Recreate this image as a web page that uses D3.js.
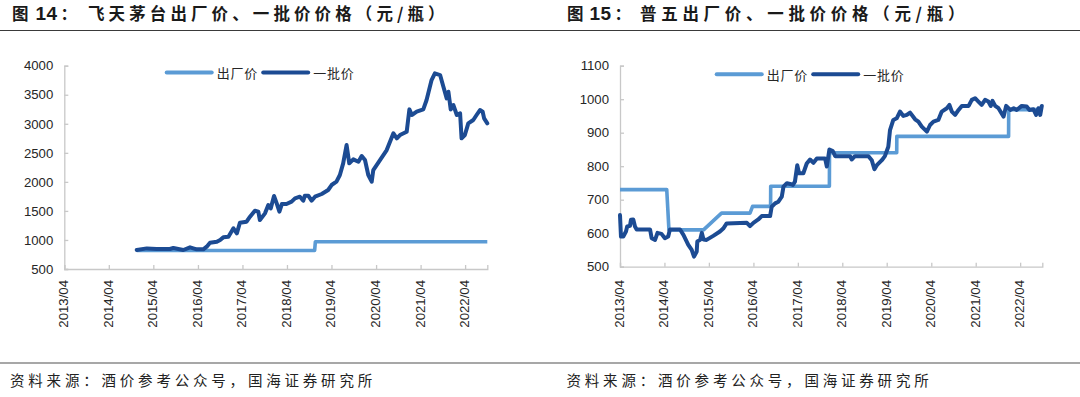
<!DOCTYPE html>
<html><head><meta charset="utf-8">
<script src="https://cdn.jsdelivr.net/npm/d3@7"></script>
<style>
html,body{margin:0;padding:0;background:#fff;}
svg{display:block;}
</style></head>
<body>
<svg id="c" width="1080" height="397"></svg>
<script>
// ---------- DATA ----------
const titleNums = ["14", "15"];
const titleTexts = ["飞天茅台出厂价、一批价价格（元/瓶）", "普五出厂价、一批价价格（元/瓶）"];
const sourceText = "资料来源：酒价参考公众号，国海证券研究所";
const seriesNames = ["出厂价", "一批价"];
const xTickDates = ["2013-04-01","2014-04-01","2015-04-01","2016-04-01","2017-04-01","2018-04-01","2019-04-01","2020-04-01","2021-04-01","2022-04-01"];
const xTickLabels = ["2013/04","2014/04","2015/04","2016/04","2017/04","2018/04","2019/04","2020/04","2021/04","2022/04"];
const leftYTicks = [500,1000,1500,2000,2500,3000,3500,4000];
const rightYTicks = [500,600,700,800,900,1000,1100];

// 飞天茅台 出厂价
const moutaiFactory = [["2014-11-16",819],["2018-11-14",819],["2018-11-20",969],["2022-09-30",969]];
// 飞天茅台 一批价
const moutaiWholesale = [
["2014-11-16",827],["2015-02-07",855],["2015-04-27",844],["2015-08-15",845],["2015-09-12",862],
["2015-12-03",827],["2016-01-27",873],["2016-03-21",838],["2016-05-15",838],["2016-06-12",884],
["2016-07-09",953],["2016-09-03",970],["2016-09-30",1000],["2016-10-26",1045],["2016-12-07",1056],
["2017-01-17",1200],["2017-02-14",1114],["2017-03-11",1297],["2017-05-05",1315],["2017-06-02",1400],
["2017-07-12",1504],["2017-08-09",1487],["2017-08-22",1343],["2017-10-03",1458],["2017-10-30",1601],
["2017-11-19",1544],["2017-12-16",1756],["2018-01-07",1630],["2018-01-29",1487],["2018-02-18",1618],
["2018-03-28",1618],["2018-05-09",1659],["2018-06-06",1716],["2018-07-16",1745],["2018-08-13",1676],
["2018-08-26",1762],["2018-09-23",1762],["2018-10-20",1676],["2018-11-17",1745],["2019-01-11",1791],
["2019-03-05",1860],["2019-04-02",1946],["2019-05-12",2003],["2019-06-09",2118],["2019-07-06",2319],
["2019-08-03",2634],["2019-08-25",2319],["2019-09-27",2388],["2019-11-08",2347],["2019-12-05",2445],
["2020-01-01",2376],["2020-01-28",2118],["2020-02-25",2003],["2020-03-09",2204],["2020-05-03",2376],
["2020-06-27",2548],["2020-08-21",2835],["2020-09-18",2749],["2020-10-14",2806],["2020-12-08",2864],
["2020-12-30",3248],["2021-01-19",3151],["2021-02-28",3208],["2021-04-23",3248],["2021-05-20",3409],
["2021-06-30",3753],["2021-07-27",3868],["2021-09-08",3839],["2021-10-05",3638],["2021-11-01",3438],
["2021-11-15",3552],["2021-12-04",3248],["2021-12-26",3323],["2022-01-23",3151],["2022-02-19",3179],
["2022-03-03",2749],["2022-03-30",2806],["2022-04-27",3007],["2022-06-07",3065],["2022-07-04",3151],
["2022-08-01",3237],["2022-08-23",3208],["2022-09-04",3093],["2022-09-30",3007]];

// 普五 出厂价
const wuliangyeFactory = [["2013-04-01",730],["2014-04-20",730],["2014-05-08",610],["2015-02-16",610],
["2015-07-14",660],["2016-03-04",660],["2016-03-25",680],["2016-08-20",680],["2016-08-21",740],
["2017-12-16",740],["2017-12-17",840],["2019-06-22",840],["2019-06-23",889],["2021-12-27",889],
["2021-12-28",969],["2022-09-30",969]];
// 普五 一批价
const wuliangyeWholesale = [
["2013-04-01",654],["2013-04-09",590],["2013-04-28",590],["2013-05-20",605],["2013-05-30",620],
["2013-06-22",622],["2013-06-30",640],["2013-07-19",641],["2013-08-02",620],["2013-08-16",611],
["2013-12-04",611],["2013-12-17",585],["2014-01-14",580],["2014-02-03",601],["2014-03-08",598],
["2014-04-05",585],["2014-05-02",590],["2014-05-16",611],["2014-08-07",611],["2014-09-04",595],
["2014-10-14",565],["2014-11-11",550],["2014-11-30",530],["2014-12-22",545],["2014-12-27",575],
["2015-01-19",580],["2015-02-02",601],["2015-02-16",581],["2015-03-13",580],["2015-05-07",592],
["2015-07-01",605],["2015-07-28",614],["2015-08-25",629],["2016-02-07",631],["2016-03-04",621],
["2016-04-01",631],["2016-05-11",641],["2016-06-08",651],["2016-08-16",651],["2016-08-29",679],
["2016-09-26",689],["2016-10-23",694],["2016-11-20",709],["2016-12-04",739],["2017-01-01",749],
["2017-01-28",747],["2017-02-19",744],["2017-03-08",754],["2017-03-27",803],["2017-04-11",779],
["2017-05-16",779],["2017-06-13",808],["2017-07-10",820],["2017-08-07",810],["2017-09-04",823],
["2017-11-11",823],["2017-11-25",799],["2017-12-16",850],["2018-01-13",845],["2018-02-02",830],
["2018-06-04",830],["2018-06-17",820],["2018-07-14",830],["2018-11-02",830],["2018-11-29",818],
["2018-12-21",791],["2019-01-10",803],["2019-02-20",818],["2019-03-17",830],["2019-04-14",858],
["2019-04-28",908],["2019-05-25",938],["2019-06-22",943],["2019-07-19",963],["2019-08-16",950],
["2019-09-13",953],["2019-10-10",960],["2019-11-20",940],["2019-12-17",933],["2020-01-14",918],
["2020-02-25",903],["2020-03-22",923],["2020-04-19",933],["2020-05-29",938],["2020-06-26",963],
["2020-08-07",973],["2020-08-28",983],["2020-09-17",963],["2020-10-14",953],["2020-11-11",968],
["2020-12-08",980],["2021-02-02",980],["2021-02-28",998],["2021-03-27",1003],["2021-04-23",993],
["2021-05-20",983],["2021-06-17",998],["2021-07-14",993],["2021-08-03",980],["2021-08-17",995],
["2021-09-08",980],["2021-10-05",973],["2021-11-16",948],["2021-12-07",980],["2022-01-10",968],
["2022-02-07",973],["2022-03-04",968],["2022-04-14",980],["2022-05-25",978],["2022-06-16",968],
["2022-07-19",970],["2022-08-10",953],["2022-08-29",973],["2022-09-13",953],["2022-09-26",980]];

// ---------- DRAW ----------
const parse = d3.timeParse("%Y-%m-%d");
const svg = d3.select("#c");
const LIGHT = "#5b9bd5", DARK = "#1c4b93", AXIS = "#c8c8c8";
const FONT_NUM = "'Liberation Sans', Arial, sans-serif";
const FONT_CJK = "'Noto Sans CJK SC', sans-serif";

// header & footer rules
svg.append("line").attr("x1",0).attr("x2",1080).attr("y1",30.5).attr("y2",30.5).attr("stroke","#3a3a3a").attr("stroke-width",1.2);
svg.append("line").attr("x1",0).attr("x2",1080).attr("y1",363).attr("y2",363).attr("stroke","#8a8a8a").attr("stroke-width",1.4);

const panels = [
  {num: titleNums[0], txt: titleTexts[0], tx: [12, 35.5, 60.5, 88], ls: 4.1, x0: 64.3, x1: 487.3, y0: 269, y1: 65.7, yDomain:[500,4000], yTicks:leftYTicks,
   factory: moutaiFactory, wholesale: moutaiWholesale, legX: 166.7, legY: 72.5, sx: 10},
  {num: titleNums[1], txt: titleTexts[1], tx: [567, 589.5, 614.5, 640], ls: 4.7, x0: 620, x1: 1042.3, y0: 266.7, y1: 65.7, yDomain:[500,1100], yTicks:rightYTicks,
   factory: wuliangyeFactory, wholesale: wuliangyeWholesale, legX: 716.7, legY: 74.3, sx: 566.5}
];

panels.forEach(p => {
  const g = svg.append("g");
  // title
  const t = g.append("text").attr("y", 20).attr("font-weight","bold").attr("fill","#1a1a1a");
  t.append("tspan").attr("x", p.tx[0]).attr("font-family", FONT_CJK).attr("font-size", 16.5).text("图");
  t.append("tspan").attr("x", p.tx[1]).attr("font-family", FONT_NUM).attr("font-size", 19).attr("letter-spacing", 0.5).text(p.num);
  t.append("tspan").attr("x", p.tx[2]).attr("font-family", FONT_CJK).attr("font-size", 16.5).text("：");
  t.append("tspan").attr("x", p.tx[3]).attr("font-family", FONT_CJK).attr("font-size", 16.5).attr("letter-spacing", p.ls).text(p.txt);
  // source
  g.append("text").attr("x", p.sx).attr("y", 385.5).attr("font-family", FONT_CJK)
    .attr("font-size", 14.5).attr("letter-spacing", 3.8).attr("fill","#222").text(sourceText);

  const x = d3.scaleTime().domain([parse("2013-04-01"), parse("2022-09-30")]).range([p.x0, p.x1]);
  const y = d3.scaleLinear().domain(p.yDomain).range([p.y0, p.y1]);

  // x axis
  const xa = g.append("g").attr("transform", `translate(0,${p.y0})`)
    .call(d3.axisBottom(x).tickValues(xTickDates.map(parse)).tickSize(-4).tickFormat(""));
  xa.select(".domain").attr("stroke", AXIS).attr("stroke-width",1.3);
  xa.selectAll(".tick line").attr("stroke", AXIS).attr("stroke-width",1.3);
  // rotated labels
  g.selectAll(".xl").data(xTickDates).enter().append("text")
    .attr("transform", (d) => `translate(${x(parse(d)) - 0.5},280) rotate(-90)`)
    .attr("text-anchor","end").attr("dominant-baseline","central")
    .attr("font-family", FONT_NUM).attr("font-size", 13.2).attr("fill","#262626")
    .text((d,i) => xTickLabels[i]);

  // y axis
  const ya = g.append("g").attr("transform", `translate(${p.x0},0)`)
    .call(d3.axisLeft(y).tickValues(p.yTicks).tickSize(-4).tickPadding(11).tickFormat(d3.format("d")));
  ya.select(".domain").attr("stroke", AXIS).attr("stroke-width",1.3);
  ya.selectAll(".tick line").attr("stroke", AXIS).attr("stroke-width",1.3);
  ya.selectAll(".tick text").attr("font-family", FONT_NUM).attr("font-size", 13.2).attr("fill","#262626");

  const line = d3.line().x(d => x(parse(d[0]))).y(d => y(d[1]));
  g.append("path").datum(p.factory).attr("d", line).attr("fill","none").attr("stroke", LIGHT)
    .attr("stroke-width", 3.6).attr("stroke-linejoin","round");
  g.append("path").datum(p.wholesale).attr("d", line).attr("fill","none").attr("stroke", DARK)
    .attr("stroke-width", 4).attr("stroke-linejoin","round").attr("stroke-linecap","round");

  // legend
  const lg = g.append("g");
  const items = [{c: LIGHT, n: seriesNames[0], off: 0}, {c: DARK, n: seriesNames[1], off: 96.5}];
  items.forEach(it => {
    lg.append("line").attr("x1", p.legX + it.off).attr("x2", p.legX + it.off + 45)
      .attr("y1", p.legY).attr("y2", p.legY).attr("stroke", it.c).attr("stroke-width", 4).attr("stroke-linecap","round");
    lg.append("text").attr("x", p.legX + it.off + 50).attr("y", p.legY).attr("dominant-baseline","central")
      .attr("font-family", FONT_CJK).attr("font-size", 13).attr("letter-spacing", 0.8)
      .attr("fill","#262626").text(it.n);
  });
});
</script>
</body></html>
